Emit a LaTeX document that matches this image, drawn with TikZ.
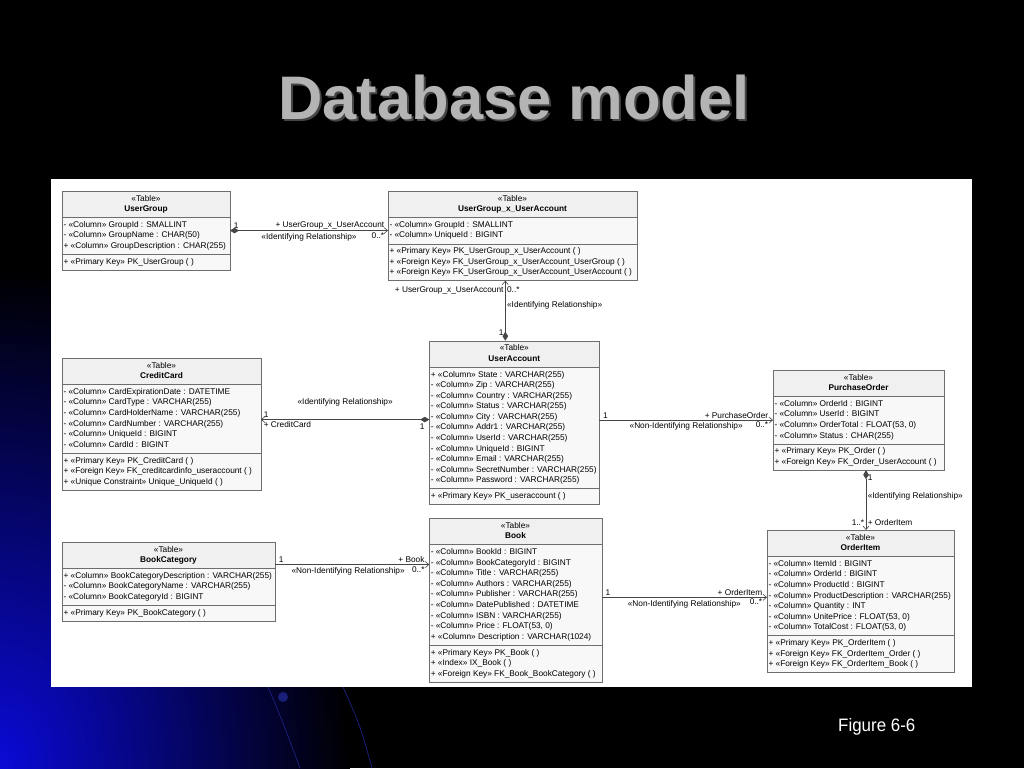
\documentclass[tikz,border=0pt]{standalone}
\usepackage{fontspec}
\setmainfont{Liberation Sans}
\usetikzlibrary{arrows.meta,shapes.multipart}

\definecolor{tblline}{RGB}{110,110,110}
\definecolor{tblfill}{RGB}{248,248,248}
\definecolor{tblhead}{RGB}{240,240,240}
\definecolor{relline}{RGB}{70,70,70}
\definecolor{titlegray}{RGB}{180,180,180}
\definecolor{titleshade}{RGB}{70,70,70}
\definecolor{glowA}{RGB}{10,10,215}
\definecolor{swoosh}{RGB}{25,30,120}

\newcommand{\tblsize}{\fontsize{8.3}{10.58}\selectfont}
\newcommand{\tblhd}[1]{\begin{tabular}{@{}c@{}}«Table»\\\textbf{#1}\end{tabular}}
\newcommand{\tblrows}[1]{\begin{tabular}{@{}l@{}}#1\end{tabular}}

\tikzset{
  dbtable/.style={rectangle split, rectangle split parts=3, draw=tblline,
    rectangle split part fill={tblhead,tblfill,tblfill},
    rectangle split part align={center,left,left},
    inner xsep=1.5pt, inner ysep=2.4pt, outer sep=0pt, anchor=north west,
    font=\tblsize, minimum width=#1},
  rel/.style={draw=relline, line width=0.6pt, -{Straight Barb[length=3.5pt,width=6pt]}},
  owns/.style={rel, {Diamond[length=9pt,width=5.5pt]}-{Straight Barb[length=3.5pt,width=6pt]}},
  lbl/.style={font=\tblsize, inner sep=1.5pt, text=black},
}

\begin{document}
\begin{tikzpicture}[x=1pt,y=-1pt]
  \useasboundingbox (0,0) rectangle (1024,768);
  % slide background
  \fill[black] (0,0) rectangle (1024,768);
  \begin{scope}
    \clip (0,0) rectangle (1024,768);
    \shade[inner color=glowA, outer color=black] (0,768) ellipse (350 and 500);
  \end{scope}
  \draw[swoosh, line width=0.8pt] (268,687) .. controls (282,720) .. (300,768);
  \draw[swoosh, line width=0.8pt] (343,687) .. controls (360,725) .. (372,768);
  \fill[swoosh] (283,697) circle (5);
  \fill[white] (51,179) rectangle (972,687);

  \node[anchor=base, text=titleshade, font=\bfseries\fontsize{61.5}{70}\selectfont]
    (titleshadow) at (516,121) {Database model};
  \node[anchor=base, text=titlegray, font=\bfseries\fontsize{61.5}{70}\selectfont]
    (title) at (514,119) {Database model};
  \node[anchor=base west, text=white, inner sep=0pt, font=\fontsize{18}{20}\selectfont]
    (figlabel) at (838,731) {\scalebox{0.94}[1]{Figure 6-6}};

  % tables
  \node[dbtable=168] (usergroup) at (62,191) {\tblhd{UserGroup}
    \nodepart{two}\tblrows{- «Column» GroupId : SMALLINT\\
      - «Column» GroupName : CHAR(50)\\
      + «Column» GroupDescription : CHAR(255)}
    \nodepart{three}\tblrows{+ «Primary Key» PK\_UserGroup ( )}};

  \node[dbtable=249] (ugxua) at (388,191) {\tblhd{UserGroup\_x\_UserAccount}
    \nodepart{two}\tblrows{- «Column» GroupId : SMALLINT\\
      - «Column» UniqueId : BIGINT}
    \nodepart{three}\tblrows{+ «Primary Key» PK\_UserGroup\_x\_UserAccount ( )\\
      + «Foreign Key» FK\_UserGroup\_x\_UserAccount\_UserGroup ( )\\
      + «Foreign Key» FK\_UserGroup\_x\_UserAccount\_UserAccount ( )}};

  \node[dbtable=199] (creditcard) at (62,358) {\tblhd{CreditCard}
    \nodepart{two}\tblrows{- «Column» CardExpirationDate : DATETIME\\
      - «Column» CardType : VARCHAR(255)\\
      - «Column» CardHolderName : VARCHAR(255)\\
      - «Column» CardNumber : VARCHAR(255)\\
      - «Column» UniqueId : BIGINT\\
      - «Column» CardId : BIGINT}
    \nodepart{three}\tblrows{+ «Primary Key» PK\_CreditCard ( )\\
      + «Foreign Key» FK\_creditcardinfo\_useraccount ( )\\
      + «Unique Constraint» Unique\_UniqueId ( )}};

  \node[dbtable=170] (useraccount) at (429.3,340.7) {\tblhd{UserAccount}
    \nodepart{two}\tblrows{+ «Column» State : VARCHAR(255)\\
      - «Column» Zip : VARCHAR(255)\\
      - «Column» Country : VARCHAR(255)\\
      - «Column» Status : VARCHAR(255)\\
      - «Column» City : VARCHAR(255)\\
      - «Column» Addr1 : VARCHAR(255)\\
      - «Column» UserId : VARCHAR(255)\\
      - «Column» UniqueId : BIGINT\\
      - «Column» Email : VARCHAR(255)\\
      - «Column» SecretNumber : VARCHAR(255)\\
      - «Column» Password : VARCHAR(255)}
    \nodepart{three}\tblrows{+ «Primary Key» PK\_useraccount ( )}};

  \node[dbtable=171] (purchaseorder) at (773,370) {\tblhd{PurchaseOrder}
    \nodepart{two}\tblrows{- «Column» OrderId : BIGINT\\
      - «Column» UserId : BIGINT\\
      - «Column» OrderTotal : FLOAT(53, 0)\\
      - «Column» Status : CHAR(255)}
    \nodepart{three}\tblrows{+ «Primary Key» PK\_Order ( )\\
      + «Foreign Key» FK\_Order\_UserAccount ( )}};

  \node[dbtable=213] (bookcategory) at (62,542) {\tblhd{BookCategory}
    \nodepart{two}\tblrows{+ «Column» BookCategoryDescription : VARCHAR(255)\\
      - «Column» BookCategoryName : VARCHAR(255)\\
      - «Column» BookCategoryId : BIGINT}
    \nodepart{three}\tblrows{+ «Primary Key» PK\_BookCategory ( )}};

  \node[dbtable=172.4] (book) at (429.3,518.3) {\tblhd{Book}
    \nodepart{two}\tblrows{- «Column» BookId : BIGINT\\
      - «Column» BookCategoryId : BIGINT\\
      - «Column» Title : VARCHAR(255)\\
      - «Column» Authors : VARCHAR(255)\\
      - «Column» Publisher : VARCHAR(255)\\
      - «Column» DatePublished : DATETIME\\
      - «Column» ISBN : VARCHAR(255)\\
      - «Column» Price : FLOAT(53, 0)\\
      + «Column» Description : VARCHAR(1024)}
    \nodepart{three}\tblrows{+ «Primary Key» PK\_Book ( )\\
      + «Index» IX\_Book ( )\\
      + «Foreign Key» FK\_Book\_BookCategory ( )}};

  \node[dbtable=187] (orderitem) at (767,530) {\tblhd{OrderItem}
    \nodepart{two}\tblrows{- «Column» ItemId : BIGINT\\
      - «Column» OrderId : BIGINT\\
      - «Column» ProductId : BIGINT\\
      - «Column» ProductDescription : VARCHAR(255)\\
      - «Column» Quantity : INT\\
      - «Column» UnitePrice : FLOAT(53, 0)\\
      - «Column» TotalCost : FLOAT(53, 0)}
    \nodepart{three}\tblrows{+ «Primary Key» PK\_OrderItem ( )\\
      + «Foreign Key» FK\_OrderItem\_Order ( )\\
      + «Foreign Key» FK\_OrderItem\_Book ( )}};

  % relationships
  \coordinate (uatop) at ([xshift=-9pt]useraccount.north);
  \coordinate (ualeft) at ([yshift=3pt]useraccount.west);
  \coordinate (pobot) at ([xshift=7.5pt]purchaseorder.south);
  \coordinate (bcright) at ([yshift=17pt]bookcategory.east);
  \coordinate (oileft) at ([yshift=4pt]orderitem.west);

  \draw[owns] (usergroup.east) --
    node[lbl, pos=0, anchor=south west, xshift=2pt] {1}
    node[lbl, pos=1, anchor=south east, xshift=-2pt] {+ UserGroup\_x\_UserAccount}
    node[lbl, pos=1, anchor=north east, xshift=-2pt] {0..*}
    node[lbl, below=1pt] {«Identifying Relationship»}
    (usergroup.east -| ugxua.west);
  \draw[owns] (uatop) --
    node[lbl, pos=0, anchor=south east, yshift=3pt] {1}
    node[lbl, pos=1, anchor=north east, yshift=-4pt] {+ UserGroup\_x\_UserAccount}
    node[lbl, pos=1, anchor=north west, yshift=-4pt] {0..*}
    node[lbl, right, yshift=5pt] {«Identifying Relationship»}
    (uatop |- ugxua.south);
  \draw[owns] (ualeft) --
    node[lbl, pos=0, anchor=north east, xshift=-3pt, yshift=-2pt] {1}
    node[lbl, pos=1, anchor=south west, xshift=1pt] {1}
    node[lbl, pos=1, anchor=north west, xshift=1pt] {+ CreditCard}
    node[lbl, above=12pt] {«Identifying Relationship»}
    (ualeft -| creditcard.east);
  \draw[rel] (purchaseorder.west -| useraccount.east) --
    node[lbl, pos=0, anchor=south west, xshift=2pt] {1}
    node[lbl, pos=1, anchor=south east, xshift=-3pt] {+ PurchaseOrder}
    node[lbl, pos=1, anchor=north east, xshift=-3pt] {0..*}
    node[lbl, below=1pt] {«Non-Identifying Relationship»}
    (purchaseorder.west);
  \draw[owns] (pobot) --
    node[lbl, pos=0, anchor=north west, yshift=-3pt] {1}
    node[lbl, right, yshift=4pt] {«Identifying Relationship»}
    node[lbl, pos=1, anchor=south east, yshift=3pt] {1..*}
    node[lbl, pos=1, anchor=south west, yshift=3pt] {+ OrderItem}
    (pobot |- orderitem.north);
  \draw[rel] (bcright) --
    node[lbl, pos=0, anchor=south west, xshift=2pt] {1}
    node[lbl, pos=1, anchor=south east, xshift=-3pt] {+ Book}
    node[lbl, pos=1, anchor=north east, xshift=-3pt] {0..*}
    node[lbl, below=1pt, xshift=-4pt] {«Non-Identifying Relationship»}
    (bcright -| book.west);
  \draw[rel] (oileft -| book.east) --
    node[lbl, pos=0, anchor=south west, xshift=2pt] {1}
    node[lbl, pos=1, anchor=south east, xshift=-3pt] {+ OrderItem}
    node[lbl, pos=1, anchor=north east, xshift=-3pt] {0..*}
    node[lbl, below=1pt] {«Non-Identifying Relationship»}
    (oileft);
\end{tikzpicture}
\end{document}
